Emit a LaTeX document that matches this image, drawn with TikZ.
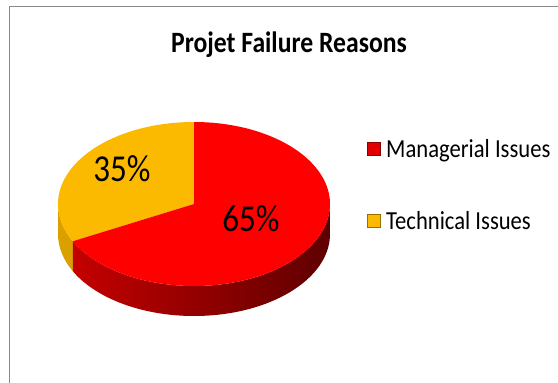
\documentclass[tikz,border=0pt]{standalone}
\usepackage{fontspec}
\setmainfont{Carlito}[FakeStretch=0.87]
\usetikzlibrary{positioning}
\definecolor{piered}{HTML}{FF0000}
\definecolor{pieyellow}{HTML}{FBBA00}
\definecolor{sideyellow}{HTML}{D9A000}
\definecolor{sidered}{HTML}{C40000}
\definecolor{sidedark}{HTML}{5E0000}
\definecolor{framegray}{HTML}{8A8A8A}
\tikzset{
  frame/.style={draw=framegray,line width=1.6pt},
  pct/.style={font=\fontsize{38}{42}\selectfont,inner sep=0pt,anchor=base},
  legtext/.style={font=\fontsize{26}{30}\selectfont,inner sep=0pt,anchor=base west},
  key/.style={minimum size=13pt,inner sep=0pt,line width=0.6pt}
}
\begin{document}
\begin{tikzpicture}[x=1pt,y=1pt]
        \useasboundingbox (0,0) rectangle (558,-383);
        \fill[white] (0,0) rectangle (558,-383);
        \draw[frame] (9.5,-383) -- (9.5,-6.5) -- (558,-6.5);
        % pie: top face centre c, depth 30
        \coordinate (c) at (194,-204);
        \coordinate (yl) at ([shift={(180:136 and 82)}]c);
        \coordinate (cut) at ([shift={(207:136 and 82)}]c);
        \coordinate (tp) at ([shift={(90:136 and 82)}]c);
        % sides
        \fill[sideyellow] (yl) arc[start angle=180,end angle=207,x radius=136,y radius=82]
          -- ++(0,-30) arc[start angle=207,end angle=180,x radius=136,y radius=82] -- cycle;
        \shade[left color=sidered,right color=sidedark] (cut) arc[start angle=207,end angle=360,x radius=136,y radius=82]
          -- ++(0,-30) arc[start angle=360,end angle=207,x radius=136,y radius=82] -- cycle;
        % top face
        \fill[pieyellow] (c) -- (tp) arc[start angle=90,end angle=207,x radius=136,y radius=82] -- cycle;
        \fill[piered] (c) -- (cut) arc[start angle=207,end angle=450,x radius=136,y radius=82] -- cycle;
        \node[pct] at (122,-181) (tech) {35\%};
        \node[pct] at (251,-231) (mgr) {65\%};
        % title
        \node[font=\bfseries\fontsize{29.5}{33}\selectfont,anchor=base,inner sep=0pt] at (289,-52) (title) {Projet Failure Reasons};
        % legend
        \node[key,fill=red!88!black,draw=red!55!black] at (374,-149) (mgrkey) {};
        \node[key,fill=pieyellow,draw=sideyellow!70!black] at (374,-221) (techkey) {};
        \node[legtext] at (386,-157) (mgrlabel) {Managerial Issues};
        \node[legtext] at (386,-229) (techlabel) {Technical Issues};
      \end{tikzpicture}
\end{document}
